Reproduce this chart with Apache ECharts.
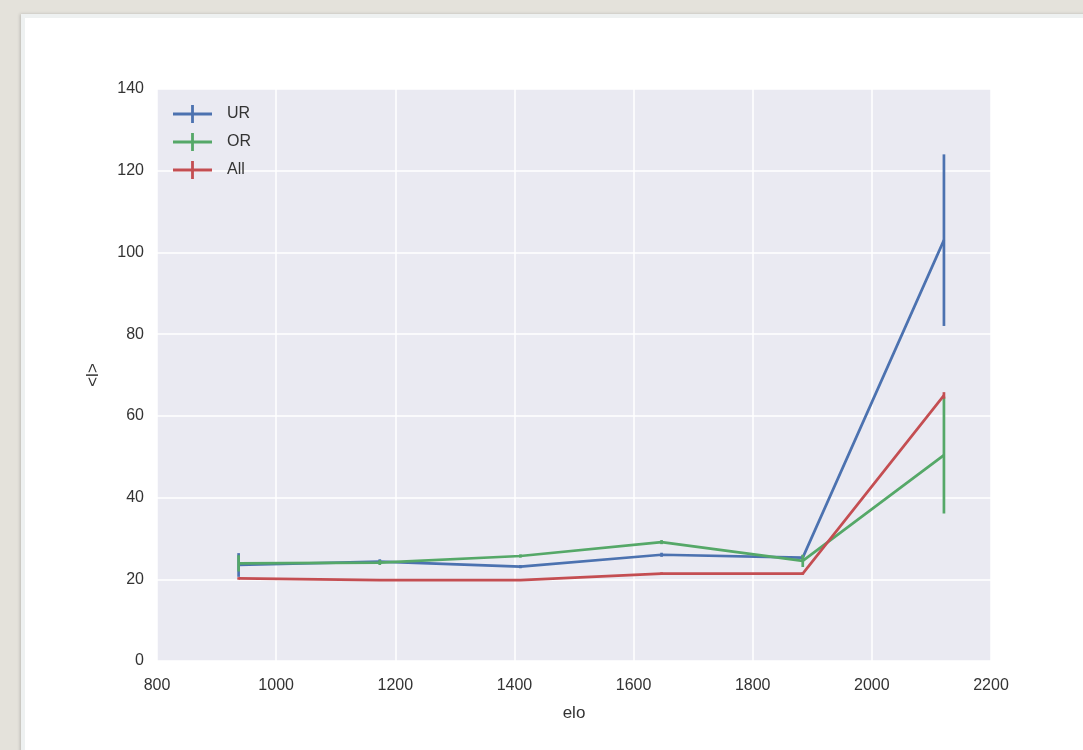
<!DOCTYPE html>
<html>
<head>
<meta charset="utf-8">
<script src="https://cdn.jsdelivr.net/npm/echarts@6/dist/echarts.min.js"></script>
<style>
  html, body { margin: 0; padding: 0; width: 1083px; height: 750px; overflow: hidden; background: #e4e2db; }
  #card { position: absolute; left: 21px; top: 14px; width: 1080px; height: 760px; background: #fff; border: 4px solid #eef1f1; box-shadow: -1px 0 3px rgba(0,0,0,0.18); }
  #chart { position: absolute; left: 0; top: 0; width: 1083px; height: 750px; }
</style>
</head>
<body>
<div id="card"></div>
<div id="chart"></div>
<script>
// Mean value per elo bin, with its standard error
const elo = [937, 1174, 1410, 1647, 1884, 2121];
const urMean = [23.5, 24.3, 23.1, 26.0, 25.3, 103.0];
const urErr  = [2.9, 0.6, 0.4, 0.5, 0.6, 21.0];
const orMean = [23.9, 24.1, 25.7, 29.1, 24.5, 50.4];
const orErr  = [2.0, 0.6, 0.4, 0.5, 1.5, 14.3];
const allMean = [20.2, 19.8, 19.8, 21.4, 21.4, 65.0];
const allErr  = [0.3, 0.2, 0.2, 0.3, 0.3, 0.8];
const seriesNames = ['UR', 'OR', 'All'];
const xTicks = [800, 1000, 1200, 1400, 1600, 1800, 2000, 2200];
const yTicks = [0, 20, 40, 60, 80, 100, 120, 140];

const colors = ['#4C72B0', '#55A868', '#C44E52'];
const means = [urMean, orMean, allMean];
const errs = [urErr, orErr, allErr];
const font = 'Liberation Sans, Arial, sans-serif';
const legendIcon = 'path://M0,7.6H39V10.4H0Z M18.1,0H20.9V18H18.1Z';

const series = [];
seriesNames.forEach((name, i) => {
  series.push({
    name: name,
    type: 'line',
    data: elo.map((x, k) => [x, means[i][k]]),
    symbol: 'none',
    lineStyle: { color: colors[i], width: 2.7 },
    itemStyle: { color: colors[i] },
    z: 3 + i * 2,
    animation: false
  });
  series.push({
    name: name,
    type: 'custom',
    data: elo.map((x, k) => [x, means[i][k], errs[i][k]]),
    renderItem: function (params, api) {
      const x = api.value(0), y = api.value(1), e = api.value(2);
      const p0 = api.coord([x, y - e]);
      const p1 = api.coord([x, y + e]);
      return {
        type: 'line',
        shape: { x1: p0[0], y1: p0[1], x2: p1[0], y2: p1[1] },
        style: { stroke: colors[i], lineWidth: 2.7 }
      };
    },
    itemStyle: { color: colors[i] },
    z: 4 + i * 2,
    animation: false
  });
});

const chart = echarts.init(document.getElementById('chart'), null, { renderer: 'canvas' });
chart.setOption({
  backgroundColor: 'transparent',
  animation: false,
  grid: { left: 157, right: 92, top: 89, bottom: 89, show: true, backgroundColor: '#EAEAF2', borderWidth: 0 },
  legend: {
    orient: 'vertical',
    left: 173, top: 105, padding: 0,
    itemWidth: 39, itemHeight: 18, itemGap: 10,
    data: seriesNames.map((n, i) => ({ name: n, icon: legendIcon, itemStyle: { color: colors[i] } })),
    textStyle: { fontFamily: font, fontSize: 16, color: '#333', padding: [0, 0, 0, 10] },
    selectedMode: false
  },
  xAxis: {
    type: 'value', min: xTicks[0], max: xTicks[xTicks.length - 1], interval: 200,
    name: 'elo', nameLocation: 'middle', nameGap: 44,
    nameTextStyle: { fontFamily: font, fontSize: 17, color: '#333' },
    axisLine: { show: false }, axisTick: { show: false },
    axisLabel: { fontFamily: font, fontSize: 16, color: '#333', margin: 17, formatter: v => String(v) },
    splitLine: { show: true, lineStyle: { color: '#fff', width: 1.5 } }
  },
  yAxis: {
    type: 'value', min: yTicks[0], max: yTicks[yTicks.length - 1], interval: 20,
    name: '<l>', nameLocation: 'middle', nameGap: 55, nameRotate: 90,
    nameTextStyle: { fontFamily: font, fontSize: 17, color: '#333' },
    axisLine: { show: false }, axisTick: { show: false },
    axisLabel: { fontFamily: font, fontSize: 16, color: '#333', margin: 13, formatter: v => String(v) },
    splitLine: { show: true, lineStyle: { color: '#fff', width: 1.5 } }
  },
  series: series
});
</script>
</body>
</html>
